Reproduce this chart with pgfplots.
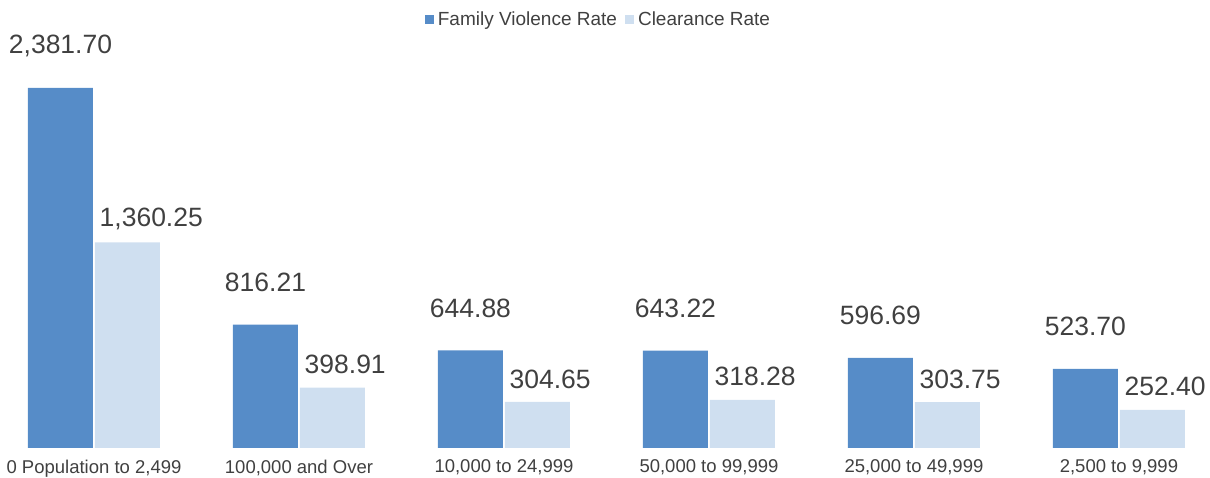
\documentclass[border=0pt]{standalone}
\usepackage{pgfplots}
\pgfplotsset{compat=1.18}
\usepackage{fontspec}
\setmainfont{Liberation Sans}
\definecolor{darkbar}{RGB}{86,140,200}
\definecolor{lightbar}{RGB}{207,223,240}
\definecolor{txt}{RGB}{64,64,64}
\begin{document}
\begin{tikzpicture}
\begin{axis}[
  at={(-8.5pt,30pt)}, anchor=south west,
  scale only axis, width=1230pt, height=400pt,
  xmin=-0.5, xmax=5.5, ymin=0, ymax=2645,
  ybar, bar width=65pt,
  axis line style={draw=none},
  ytick=\empty,
  xtick={0,1,2,3,4,5},
  xticklabels={{0 Population to 2,499},{100,000 and Over},{10,000 to 24,999},{50,000 to 99,999},{25,000 to 49,999},{2,500 to 9,999}},
  xtick style={draw=none},
  xticklabel style={font=\fontsize{18.5}{22}\selectfont, text=txt, yshift=-4pt},
  /pgf/number format/assume math mode=true,
  nodes near coords,
  point meta=y,
  /pgf/number format/.cd, fixed, fixed zerofill, precision=2, 1000 sep={,},
  /pgfplots/.cd,
  nodes near coords style={font=\fontsize{26.5}{30}\selectfont, text=txt},
  legend columns=2,
  legend style={at={(0.4935,1.072)}, anchor=center, draw=none, fill=none,
    font=\fontsize{19}{22}\selectfont, text=txt},
  legend image code/.code={\fill[#1] (0pt,-4.5pt) rectangle (9pt,4.5pt); \path (11pt,0pt);},
]
\addplot[fill=darkbar, draw=none, bar shift=-33.5pt,
  nodes near coords style={anchor=center, yshift=42pt}]
  coordinates {(0,2381.70) (1,816.21) (2,644.88) (3,643.22) (4,596.69) (5,523.70)};
\addplot[fill=lightbar, draw=none, bar shift=33.5pt,
  nodes near coords style={anchor=west, inner sep=0pt, xshift=-28pt, yshift=23pt}]
  coordinates {(0,1360.25) (1,398.91) (2,304.65) (3,318.28) (4,303.75) (5,252.40)};
\legend{Family Violence Rate\hspace*{6pt}, Clearance Rate}
\end{axis}
\pgfresetboundingbox
\useasboundingbox (0,0) rectangle (1210pt,478pt);
\end{tikzpicture}
\end{document}
